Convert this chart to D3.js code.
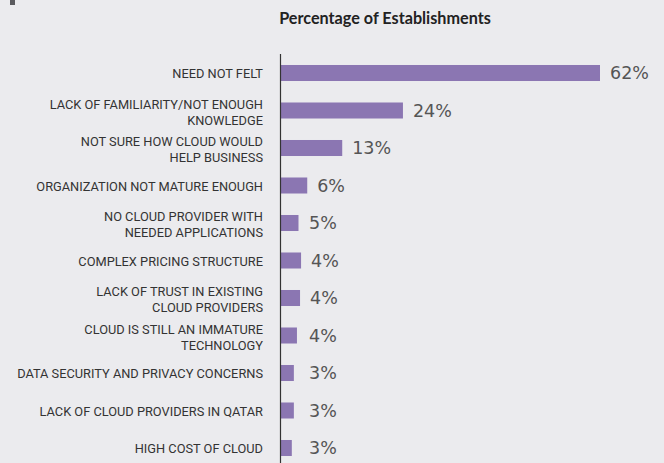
<!DOCTYPE html>
<html>
<head>
<meta charset="utf-8">
<script src="https://cdn.jsdelivr.net/npm/d3@7/dist/d3.min.js"></script>
<style>
  html, body { margin: 0; padding: 0; background: #ebebee; }
  svg { display: block; }
</style>
</head>
<body>
<div id="chart"></div>
<script>
// categories, "|" marks a line break in the label
const categories = [
  "NEED NOT FELT",
  "LACK OF FAMILIARITY/NOT ENOUGH|KNOWLEDGE",
  "NOT SURE HOW CLOUD WOULD|HELP BUSINESS",
  "ORGANIZATION NOT MATURE ENOUGH",
  "NO CLOUD PROVIDER WITH|NEEDED APPLICATIONS",
  "COMPLEX PRICING STRUCTURE",
  "LACK OF TRUST IN EXISTING|CLOUD PROVIDERS",
  "CLOUD IS STILL AN IMMATURE|TECHNOLOGY",
  "DATA SECURITY AND PRIVACY CONCERNS",
  "LACK OF CLOUD PROVIDERS IN QATAR",
  "HIGH COST OF CLOUD"
];
// bar lengths as drawn in the picture (percent)
const values = [62, 23.7, 11.9, 5.1, 3.4, 3.9, 3.7, 3.1, 2.5, 2.5, 2.1];
// printed value labels
const valueLabels = ["62%", "24%", "13%", "6%", "5%", "4%", "4%", "4%", "3%", "3%", "3%"];

const W = 664, H = 463;
const svg = d3.select("#chart").append("svg")
  .attr("width", W).attr("height", H);

svg.append("rect")
  .attr("width", W).attr("height", H)
  .attr("fill", "#ebebee");

// small cropped marker top-left
svg.append("rect")
  .attr("x", 10).attr("y", 0)
  .attr("width", 5).attr("height", 5)
  .attr("fill", "#5a5a5e");

svg.append("text")
  .attr("x", 385).attr("y", 24)
  .attr("text-anchor", "middle")
  .attr("font-family", "Lato, 'Open Sans', sans-serif")
  .attr("font-weight", 700)
  .attr("font-size", 16.2)
  .attr("fill", "#222")
  .text("Percentage of Establishments");

const x = d3.scaleLinear().domain([0, 62]).range([281, 600]);
const y = d3.scaleBand()
  .domain(categories)
  .range([54.25, 466.75])
  .paddingInner(0.573)
  .paddingOuter(0.2865);

const rows = categories.map((c, i) => ({ cat: c, v: values[i], lab: valueLabels[i] }));

svg.selectAll("rect.bar")
  .data(rows)
  .enter().append("rect")
  .attr("class", "bar")
  .attr("x", x(0))
  .attr("y", d => y(d.cat))
  .attr("width", d => x(d.v) - x(0))
  .attr("height", y.bandwidth())
  .attr("fill", "#8b76b2");

// axis line
svg.append("line")
  .attr("x1", 280.5).attr("x2", 280.5)
  .attr("y1", 54).attr("y2", H)
  .attr("stroke", "#333")
  .attr("stroke-width", 1.2);

// category labels
const cat = svg.selectAll("text.cat")
  .data(rows)
  .enter().append("text")
  .attr("class", "cat")
  .attr("text-anchor", "end")
  .attr("font-family", "Roboto, sans-serif")
  .attr("font-size", 12.8)
  .attr("fill", "#333");

cat.each(function (d) {
  const lines = d.cat.split("|");
  const c = y(d.cat) + y.bandwidth() / 2;
  const y0 = lines.length > 1 ? c - 2 : c + 5;
  d3.select(this).selectAll("tspan")
    .data(lines)
    .enter().append("tspan")
    .attr("x", 263)
    .attr("y", (l, j) => y0 + j * 16)
    .text(l => l);
});

// value labels
svg.selectAll("text.val")
  .data(rows)
  .enter().append("text")
  .attr("class", "val")
  .attr("x", d => Math.max(x(d.v) + 10, 309))
  .attr("y", d => y(d.cat) + y.bandwidth() / 2 + 6)
  .attr("font-family", "'DejaVu Sans', sans-serif")
  .attr("font-size", 17.5)
  .attr("fill", "#555")
  .text(d => d.lab);
</script>
</body>
</html>
